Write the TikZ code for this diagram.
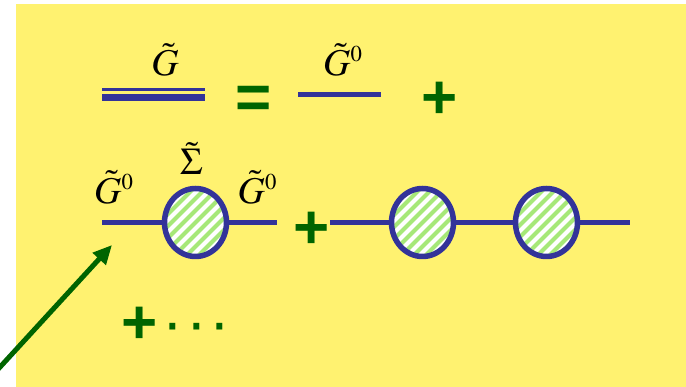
\documentclass[tikz,border=0pt]{standalone}
\usepackage{mathptmx}
\usepackage[no-math]{fontspec}
\newfontfamily\symfont{Liberation Sans}
\usetikzlibrary{shapes.geometric,arrows.meta}
\definecolor{bgyellow}{RGB}{255,242,112}
\definecolor{lineblue}{RGB}{51,51,153}
\definecolor{dkgreen}{RGB}{0,100,0}
\definecolor{stripegreen}{RGB}{166,232,120}
\newcommand{\biglbl}[1]{\scalebox{1.72}{\fontsize{22}{24}\selectfont #1}}
\tikzset{
  prop/.style={draw=lineblue, line width=5.5pt},
  selfen/.style={ellipse, draw=lineblue, line width=5.5pt, fill=white,
    minimum width=62pt, minimum height=68pt, inner sep=0pt,
    path picture={\foreach \k in {-12,...,12}
      \draw[stripegreen, line width=4pt]
        ([shift={({\k*12-60},-60)}]path picture bounding box.center) -- ++(120,120);}},
  sym/.style={font=\symfont\bfseries\fontsize{62}{62}\selectfont, text=dkgreen, inner sep=0pt},
  lbl/.style={inner sep=0pt, anchor=base},
  pointer/.style={draw=dkgreen, line width=5pt, -{Triangle[length=19pt,width=17pt]}},
}
\begin{document}
\begin{tikzpicture}[x=1pt,y=1pt]
\useasboundingbox (0,0) rectangle (686,387);
\fill[bgyellow] (16,0) rectangle (686,383);
% row 1
\node[lbl] (gfull) at (165,311.5) {\biglbl{$\tilde{G}$}};
\coordinate (dl1) at (102,297.3);
\coordinate (dr1) at (205,297.3);
\coordinate (dl2) at (102,289.7);
\coordinate (dr2) at (205,289.7);
\draw[draw=lineblue, line width=2.6pt] (dl1) -- (dr1);
\draw[draw=lineblue, line width=6.7pt] (dl2) -- (dr2);
\node[sym] (eq) at (253.5,285) {=};
\node[lbl] (g0a) at (343,311.5) {\biglbl{$\tilde{G}^{\scriptscriptstyle 0}$}};
\coordinate (pl0) at (298,292.3);
\coordinate (pr0) at (381,292.3);
\draw[prop] (pl0) -- (pr0);
\node[sym] (plus1) at (440,286.5) {+};
% row 2
\node[lbl] (g0b) at (114,183.7) {\biglbl{$\tilde{G}^{\scriptscriptstyle 0}$}};
\node[lbl] (sig) at (192,212) {\biglbl{$\tilde{\Sigma}$}};
\node[lbl] (g0c) at (257.5,183.7) {\biglbl{$\tilde{G}^{\scriptscriptstyle 0}$}};
\coordinate (a0) at (102,164.5);
\node[selfen] (s1) at (195.5,164.5) {};
\coordinate (a1) at (277,164.5);
\draw[prop] (a0) -- (s1);
\draw[prop] (s1) -- (a1);
\node[sym] (plus2) at (311.5,157) {+};
\coordinate (b0) at (330,164.5);
\node[selfen] (s2) at (422.5,164.5) {};
\node[selfen] (s3) at (546.5,164.5) {};
\coordinate (b1) at (630,164.5);
\draw[prop] (b0) -- (s2);
\draw[prop] (s2) -- (s3);
\draw[prop] (s3) -- (b1);
% row 3
\node[sym, anchor=west] (more) at (121,61.5) {+\hspace{5pt}{\mdseries ·\hspace{3pt}·\hspace{3pt}·}};
% arrow
\coordinate (atail) at (-10,9);
\coordinate (ahead) at (112,142);
\draw[pointer] (atail) -- (ahead);
\end{tikzpicture}
\end{document}
